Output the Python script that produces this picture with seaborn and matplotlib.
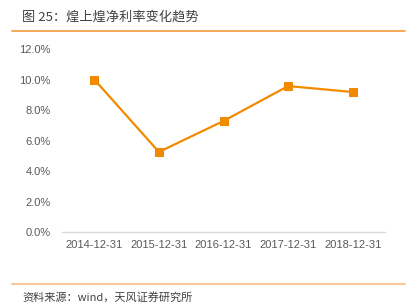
import matplotlib
matplotlib.use("Agg")
import matplotlib.pyplot as plt
import seaborn as sns
import pandas as pd
from matplotlib.ticker import FuncFormatter

categories = ["2014-12-31", "2015-12-31", "2016-12-31", "2017-12-31", "2018-12-31"]
net_margin = [0.100, 0.0525, 0.0728, 0.0957, 0.0918]
yticks = [0.0, 0.02, 0.04, 0.06, 0.08, 0.10, 0.12]

sns.set_theme(style="white")
plt.rcParams['font.family'] = ['Noto Sans CJK SC', 'DejaVu Sans']

df = pd.DataFrame({"date": categories, "value": net_margin})

fig = plt.figure(figsize=(4.14, 3.04), dpi=100)
ax = fig.add_axes([0.1498, 0.2368, 0.7802, 0.602])

sns.lineplot(data=df, x="date", y="value", ax=ax, color="#F28A00", linewidth=1.6,
             marker="s", markersize=5.5, markeredgecolor="#F28A00", sort=False)

ax.set_xlim(-0.5, 4.5)
ax.set_ylim(0, 0.12)
ax.set_yticks(yticks)
ax.yaxis.set_major_formatter(FuncFormatter(lambda v, p: f"{v*100:.1f}%"))
ax.set_xlabel("")
ax.set_ylabel("")
tick_font = ['Liberation Sans Narrow', 'Liberation Sans', 'DejaVu Sans']
for lab in ax.get_xticklabels() + ax.get_yticklabels():
    lab.set_family(tick_font)
    lab.set_fontsize(8)
    lab.set_color("#595959")
ax.tick_params(axis='both', length=0, pad=6)
ax.tick_params(axis='y', pad=8)
for s in ["top", "right", "left"]:
    ax.spines[s].set_visible(False)
ax.spines["bottom"].set_color("#D9D9D9")
ax.spines["bottom"].set_linewidth(1.0)
ax.grid(False)

fig.text(22/414, 1-17/304, "图 25：煌上煌净利率变化趋势", fontsize=9.5, color="#404040",
         fontweight="medium", va="center", ha="left")
fig.add_artist(plt.Line2D([12/414, 405/414], [1-31/304, 1-31/304], color="#F39A3A", linewidth=1.2))
fig.add_artist(plt.Line2D([12/414, 405/414], [1-284/304, 1-284/304], color="#F8C898", linewidth=1.5))
fig.text(22/414, 1-297/304, "资料来源：wind，天风证券研究所", fontsize=8, color="#404040",
         va="center", ha="left")

fig.savefig("out.png", dpi=100)
